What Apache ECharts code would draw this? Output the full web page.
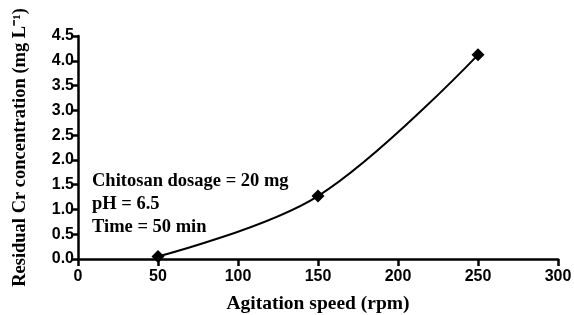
<!DOCTYPE html>
<html>
<head>
<meta charset="utf-8">
<script src="https://cdn.jsdelivr.net/npm/echarts@6/dist/echarts.min.js"></script>
<style>
html, body { margin: 0; padding: 0; background: #fff; }
#chart { width: 574px; height: 315px; }
</style>
</head>
<body>
<div id="chart"></div>
<script>
const speeds = [50, 150, 250];
const residualCr = [0.05, 1.27, 4.12];
const notes = ['Chitosan dosage = 20 mg', 'pH = 6.5', 'Time = 50 min'];

const serif = '"Liberation Serif", "Times New Roman", serif';
const sans = '"Liberation Sans", Arial, sans-serif';
let chart = echarts.init(document.getElementById('chart'));
let option = {
    animation: false,
    grid: { left: 78, right: 16, top: 36, bottom: 56, outerBoundsMode: 'none', containLabel: false },
    xAxis: {
        type: 'value',
        min: 0, max: 300, interval: 50,
        name: 'Agitation speed (rpm)',
        nameLocation: 'middle',
        nameGap: 35,
        nameTextStyle: { fontFamily: serif, fontSize: 19.5, fontWeight: 'bold', color: '#000' },
        axisLine: { lineStyle: { color: '#000', width: 2.5 } },
        axisTick: { length: 7, lineStyle: { color: '#000', width: 2.5 } },
        axisLabel: { fontFamily: sans, fontSize: 16, fontWeight: 'bold', color: '#000', margin: 10 },
        splitLine: { show: false }
    },
    yAxis: {
        type: 'value',
        min: 0, max: 4.5, interval: 0.5,
        name: 'Residual Cr concentration (mg L\u207B\u00B9)',
        nameLocation: 'middle',
        nameGap: 48,
        nameTextStyle: { fontFamily: serif, fontSize: 18.5, fontWeight: 'bold', color: '#000' },
        axisLine: { show: true, lineStyle: { color: '#000', width: 2.5 } },
        axisTick: { show: true, length: 7, lineStyle: { color: '#000', width: 2.5 } },
        axisLabel: {
            fontFamily: sans, fontSize: 16, fontWeight: 'bold', color: '#000', margin: 4,
            formatter: v => v.toFixed(1)
        },
        splitLine: { show: false }
    },
    graphic: [{
        type: 'text',
        left: 92, top: 170,
        style: {
            text: notes.join('\n'),
            font: 'bold 18.5px ' + serif,
            lineHeight: 23,
            fill: '#000'
        }
    }],
    series: [{
        type: 'line',
        data: speeds.map((s, i) => [s, residualCr[i]]),
        smooth: 0.35,
        symbol: 'diamond',
        symbolSize: 13,
        itemStyle: { color: '#000' },
        lineStyle: { color: '#000', width: 2 }
    }]
};
chart.setOption(option);
</script>
</body>
</html>
